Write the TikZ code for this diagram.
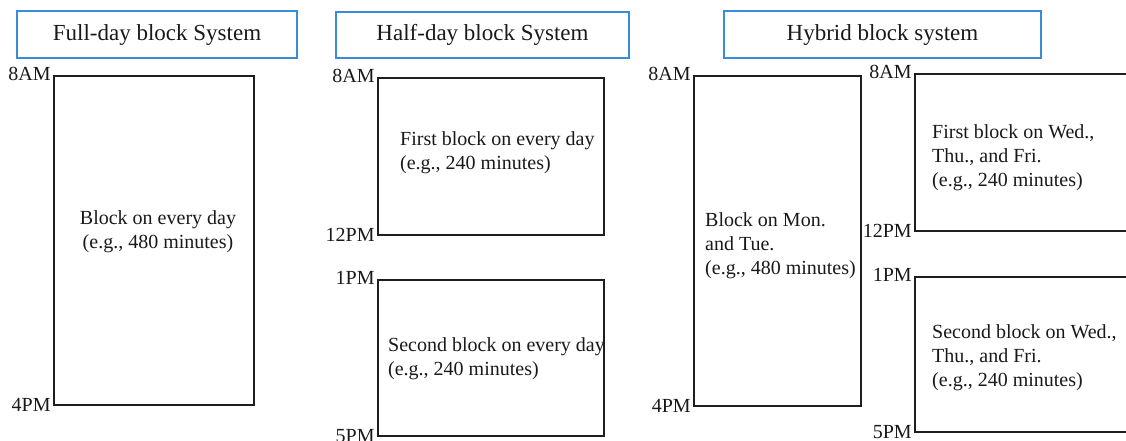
\documentclass[tikz,border=0pt]{standalone}
\usepackage{fontspec}
\setmainfont{Liberation Serif}
\definecolor{framblue}{RGB}{58,140,216}
\definecolor{blockline}{RGB}{30,30,30}
\begin{document}
\begin{tikzpicture}[x=1pt,y=-1pt,
  titlebox/.style={draw=framblue, line width=1.3pt, inner sep=0pt,
    font=\fontsize{23}{27}\selectfont, text=black!90},
  blockbox/.style={draw=blockline, line width=1.3pt, inner sep=0pt},
  timelbl/.style={anchor=east, inner sep=0pt, xshift=-2.5pt, yshift=1pt,
    font=\fontsize{20}{24}\selectfont, text=black!90},
  body/.style={anchor=base west, inner sep=0pt, align=left,
    font=\fontsize{20}{24}\selectfont, text=black!90}]
\clip (0,0) rectangle (1126,440);
\useasboundingbox (0,0) rectangle (1126,440);

% column headings
\node[titlebox, minimum width=280pt, minimum height=47pt] (t1) at (157,34.5) {Full-day block System};
\node[titlebox, minimum width=293pt, minimum height=46pt] (t2) at (482.5,35) {Half-day block System};
\node[titlebox, minimum width=317pt, minimum height=47pt] (t3) at (882.5,34.5) {Hybrid block system};

% full-day block (text anchored at the baseline of its last line)
\node[blockbox, minimum width=200pt, minimum height=329pt] (b1) at (154,240.5) {};
\node[timelbl] (b1a) at (b1.north west) {8AM};
\node[timelbl] (b1b) at (b1.south west) {4PM};
\node[body, align=center, anchor=base] (b1t) at (158,248) {Block on every day\\(e.g., 480 minutes)};

% half-day blocks
\node[blockbox, minimum width=226pt, minimum height=157pt] (b2) at (491,156.5) {};
\node[timelbl] (b2a) at (b2.north west) {8AM};
\node[timelbl] (b2b) at (b2.south west) {12PM};
\node[body] (b2t) at (400,169) {First block on every day\\(e.g., 240 minutes)};

\node[blockbox, minimum width=226pt, minimum height=156pt] (b3) at (491,358) {};
\node[timelbl] (b3a) at (b3.north west) {1PM};
\node[timelbl] (b3b) at (b3.south west) {5PM};
\node[body] (b3t) at (388,375) {Second block on every day\\(e.g., 240 minutes)};

% hybrid blocks
\node[blockbox, minimum width=167pt, minimum height=330pt] (b4) at (777.5,241) {};
\node[timelbl] (b4a) at (b4.north west) {8AM};
\node[timelbl] (b4b) at (b4.south west) {4PM};
\node[body] (b4t) at (705,274) {Block on Mon.\\and Tue.\\(e.g., 480 minutes)};

\node[blockbox, minimum width=225pt, minimum height=157pt] (b5) at (1027.5,152.5) {};
\node[timelbl] (b5a) at (b5.north west) {8AM};
\node[timelbl] (b5b) at (b5.south west) {12PM};
\node[body] (b5t) at (932,186) {First block on Wed.,\\Thu., and Fri.\\(e.g., 240 minutes)};

\node[blockbox, minimum width=225pt, minimum height=155pt] (b6) at (1027.5,354.5) {};
\node[timelbl] (b6a) at (b6.north west) {1PM};
\node[timelbl] (b6b) at (b6.south west) {5PM};
\node[body] (b6t) at (932,386) {Second block on Wed.,\\Thu., and Fri.\\(e.g., 240 minutes)};
\end{tikzpicture}
\end{document}
